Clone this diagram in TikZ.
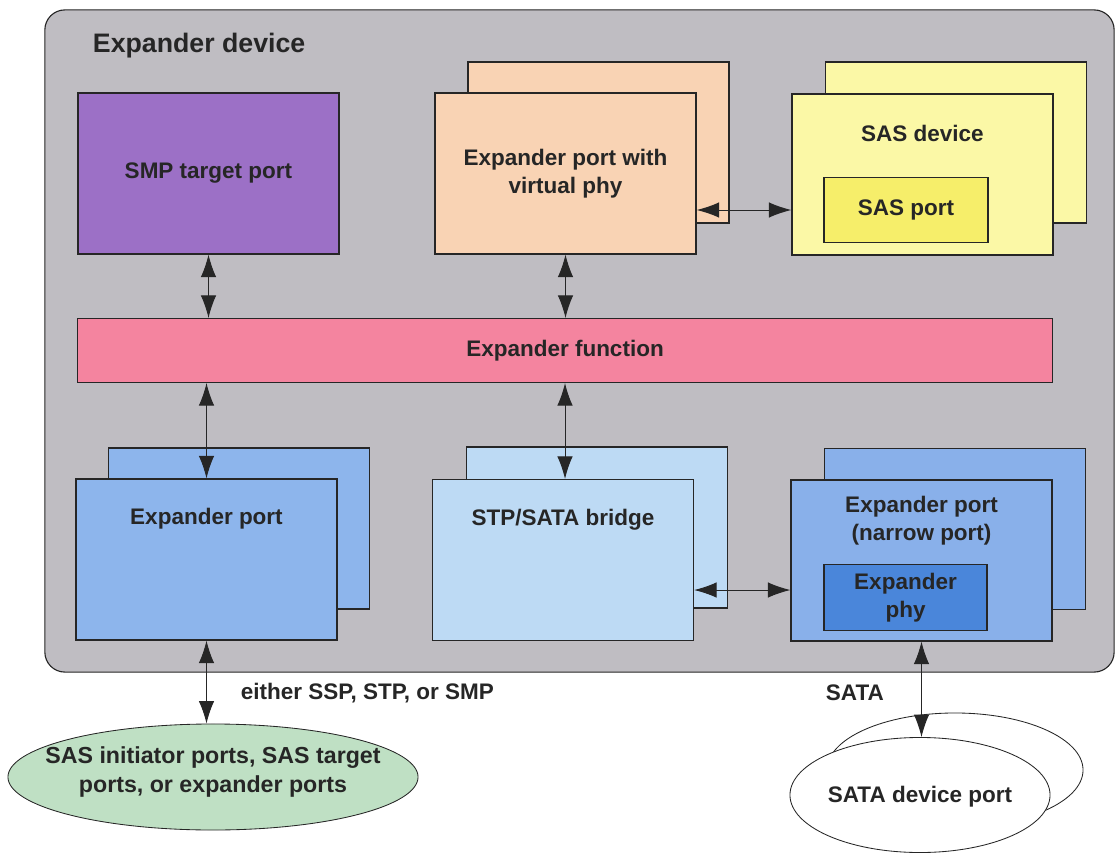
\documentclass[tikz,border=0pt]{standalone}
\usepackage{fontspec}
\setmainfont{Liberation Sans}
\usetikzlibrary{arrows.meta,shapes.geometric}

\definecolor{devgray}{HTML}{BFBDC2}
\definecolor{smppurple}{HTML}{9C70C6}
\definecolor{vppeach}{HTML}{F9D3B4}
\definecolor{sasyellow}{HTML}{FBF8A6}
\definecolor{portyellow}{HTML}{F6EE6A}
\definecolor{fnpink}{HTML}{F4849F}
\definecolor{epblue}{HTML}{8DB5EC}
\definecolor{brblue}{HTML}{BDDAF4}
\definecolor{npblue}{HTML}{89B0EA}
\definecolor{phyblue}{HTML}{4A86DA}
\definecolor{inigreen}{HTML}{BFE0C4}

\tikzset{
  box/.style={draw=black!85, line width=0.8pt, minimum width=6.525cm, minimum height=4.025cm, inner sep=0pt},
  inbox/.style={draw=black!85, line width=0.8pt, minimum width=4.1cm, minimum height=1.63cm, inner sep=0pt},
  oval/.style={ellipse, draw=black!85, line width=0.6pt, inner sep=0pt},
  lbl/.style={font=\fontsize{16}{20}\selectfont\bfseries, text=black!85, align=center},
  tip/.tip={Latex[length=16pt,width=11pt]},
  link/.style={tip-tip, line width=0.7pt, draw=black!85},
}

\begin{document}
\begin{tikzpicture}[x=0.025cm, y=-0.025cm]
                \useasboundingbox (0,0) rectangle (1120,855);

                \node (dev) [draw=black!85, line width=0.8pt, fill=devgray, rounded corners=0.5cm, minimum width=26.725cm, minimum height=16.55cm] at (579.5,341) {};
                \node (devt) [lbl, anchor=west, font=\fontsize{19}{23}\selectfont\bfseries] at (88,46) {Expander device};

                \node (SMP) [box, fill=smppurple] at (208.5,173.5) {};
                \node (SMPt) [lbl] at (208.5,173.5) {SMP target port};

                \node (VPb) [box, fill=vppeach] at (598.5,142.5) {};
                \node (VP) [box, fill=vppeach] at (565.5,173.5) {};
                \node (VPt) [lbl] at (565.5,174) {Expander port with\\virtual phy};

                \node (SDb) [box, fill=sasyellow] at (956,142.5) {};
                \node (SD) [box, fill=sasyellow] at (922.5,174.5) {};
                \node (SDt) [lbl] at (922.5,133) {SAS device};
                \node (SP) [inbox, fill=portyellow] at (906,210) {};
                \node (SPt) [lbl] at (906,210) {SAS port};

                \node (EF) [box, fill=fnpink, minimum width=24.375cm, minimum height=1.6cm] at (565,350.5) {};
                \node (EFt) [lbl] at (565,351) {Expander function};

                \node (EPb) [box, fill=epblue] at (239,528.5) {};
                \node (EP) [box, fill=epblue] at (206.5,559.5) {};
                \node (EPt) [lbl] at (206.5,519) {Expander port};

                \node (BRb) [box, fill=brblue] at (597,527.5) {};
                \node (BR) [box, fill=brblue] at (563,560) {};
                \node (BRt) [lbl] at (563,520) {STP/SATA bridge};

                \node (NPb) [box, fill=npblue] at (955,529) {};
                \node (NP) [box, fill=npblue] at (921.5,560.5) {};
                \node (NPt) [lbl] at (921.5,521) {Expander port\\(narrow port)};
                \node (PHY) [inbox, fill=phyblue, minimum width=4.075cm] at (905.5,597.5) {};
                \node (PHYt) [lbl] at (905.5,597.5) {Expander\\phy};

                \node (INI) [oval, fill=inigreen, minimum width=10.25cm, minimum height=2.65cm] at (213,777) {};
                \node (INIt) [lbl, font=\fontsize{16.5}{20.5}\selectfont\bfseries] at (213,772) {SAS initiator ports, SAS target\\ports, or expander ports};

                \node (SATAb) [oval, fill=white, minimum width=6.4cm, minimum height=2.85cm] at (955,770) {};
                \node (SATA) [oval, fill=white, minimum width=6.5cm, minimum height=2.875cm] at (920,795) {};
                \node (SATAt) [lbl] at (920,797) {SATA device port};

                \node (proto) [lbl, anchor=west] at (236,693) {either SSP, STP, or SMP};
                \node (satal) [lbl, anchor=west] at (821,693) {SATA};

                \draw[link] (SMP.south) to (SMP.south |- EF.north); \draw[link] (VP.south) to (VP.south |- EF.north);
                \draw[link] (EF.south -| EP.north) to (EP.north); \draw[link] (EF.south) to (EF.south |- BR.north);
                \draw[link] (SP -| VP.east) to (SP -| SD.west);
                \draw[link] ([yshift=-0.75cm]BR.east) to ([yshift=-0.75cm]BR.east -| NP.west);
                \draw[link] (EP.south) to (EP.south |- INI.north); \draw[link] (NP.south) to (NP.south |- SATA.north);
            \end{tikzpicture}
\end{document}
